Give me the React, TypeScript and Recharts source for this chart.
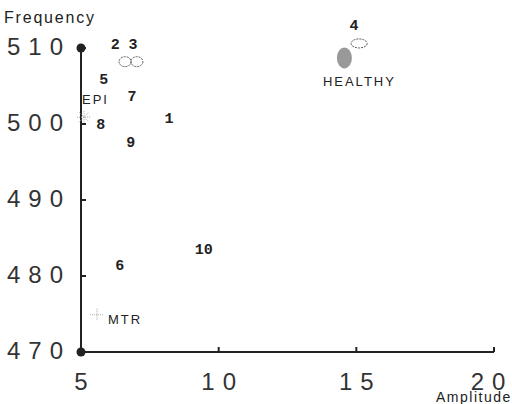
import { ScatterChart, Scatter, XAxis, YAxis, ReferenceLine } from "recharts";

// numbered cases, drawn as text at their data position
const caseNames = ["1", "2", "3", "4", "5", "6", "7", "8", "9", "10"];
const caseX = [8.2, 6.24, 6.89, 14.92, 5.83, 6.41, 6.85, 5.72, 6.81, 9.46];
const caseY = [500.9, 510.7, 510.7, 513.2, 506.1, 481.6, 503.8, 500.1, 497.8, 483.7];

// open ellipses next to cases 2, 3 and 4
const openX = [6.6, 7.03, 15.1];
const openY = [508.2, 508.2, 510.6];

const healthy = [{ x: 14.53, y: 508.7, name: "HEALTHY" }];
const epi = [{ x: 5.11, y: 500.9, name: "EPI" }];
const mtr = [{ x: 5.58, y: 474.9, name: "MTR" }];

const xTicks = [5, 10, 15, 20];
const yTicks = [470, 480, 490, 500, 510];
// vertical axis runs from the lowest to the highest tick
const yAxisLine = [
  { x: 5, y: 470 },
  { x: 5, y: 510 },
];

const marks = [
  ...openX.map((x, i) => ({ x, y: openY[i], kind: "open", name: "" })),
  ...healthy.map((d) => ({ ...d, kind: "healthy" })),
  ...epi.map((d) => ({ ...d, kind: "epi" })),
  ...mtr.map((d) => ({ ...d, kind: "mtr" })),
  ...caseNames.map((n, i) => ({ x: caseX[i], y: caseY[i], name: n, kind: "case" })),
];

const SANS = "'Liberation Sans', Arial, sans-serif";

const YTick = (props: any) => {
  const { x, y, payload } = props;
  return (
    <g>
      <line x1={x} x2={x + 5} y1={y} y2={y} stroke="#222" strokeWidth={2} />
      <text x={x - 10} y={y + 7} textAnchor="end" fontFamily={SANS} fontSize={24} letterSpacing={8} fill="#333">
        {payload.value}
      </text>
      {payload.value === 510 && (
        <text x={x - 77} y={y - 25} fontFamily={SANS} fontSize={16} letterSpacing={1.8} fill="#222">
          Frequency
        </text>
      )}
    </g>
  );
};

const XTick = (props: any) => {
  const { x, y, payload } = props;
  return (
    <g>
      {payload.value !== 5 && <line x1={x} x2={x} y1={y} y2={y - 5} stroke="#222" strokeWidth={2} />}
      <text x={payload.value === 20 ? x - 2 : x + 4} y={y + 38} textAnchor="middle" fontFamily={SANS} fontSize={24} letterSpacing={8} fill="#333">
        {payload.value}
      </text>
      {payload.value === 20 && (
        <text x={x - 58} y={y + 50} fontFamily={SANS} fontSize={14} letterSpacing={1.5} fill="#222">
          Amplitude
        </text>
      )}
    </g>
  );
};

const MarkShape = (props: any) => {
  const { cx, cy, payload } = props;
  if (payload.kind === "open") {
    const wide = payload.x > 10;
    return <ellipse cx={cx} cy={cy} rx={wide ? 8 : 6} ry={wide ? 4.5 : 5} fill="none" stroke="#555" strokeDasharray="2 1" />;
  }
  if (payload.kind === "healthy") {
    return (
      <g>
        <ellipse cx={cx + 1} cy={cy} rx={7.5} ry={10.5} fill="#999" />
        <text x={cx + 16} y={cy + 28} textAnchor="middle" fontFamily={SANS} fontSize={13} letterSpacing={2} fill="#222">
          {payload.name}
        </text>
      </g>
    );
  }
  if (payload.kind === "epi") {
    return (
      <g>
        <g stroke="#aaa" strokeDasharray="1 1">
          <line x1={cx - 7} x2={cx + 7} y1={cy} y2={cy} />
          <line x1={cx - 5} x2={cx + 5} y1={cy - 5} y2={cy + 5} />
          <line x1={cx - 5} x2={cx + 5} y1={cy + 5} y2={cy - 5} />
          <line x1={cx} x2={cx} y1={cy - 6} y2={cy + 6} />
        </g>
        <text x={cx - 2} y={cy - 13} fontFamily={SANS} fontSize={13} letterSpacing={2} fill="#222">
          {payload.name}
        </text>
      </g>
    );
  }
  if (payload.kind === "mtr") {
    return (
      <g>
        <g stroke="#aaa" strokeDasharray="1 1">
          <line x1={cx - 7} x2={cx + 7} y1={cy} y2={cy} />
          <line x1={cx} x2={cx} y1={cy - 6} y2={cy + 6} />
        </g>
        <text x={cx + 11} y={cy + 9} fontFamily={SANS} fontSize={13} letterSpacing={2} fill="#222">
          {payload.name}
        </text>
      </g>
    );
  }
  return (
    <text x={cx} y={cy + 6} textAnchor="middle" fontFamily="'Liberation Mono', monospace" fontWeight="bold" fontSize={15} fill="#222">
      {payload.name}
    </text>
  );
};

export default function App() {
  return (
    <div style={{ position: "absolute", left: 0, top: 0 }}>
      <ScatterChart width={512} height={404} margin={{ top: 10, right: 18, bottom: 51, left: 80 }}>
        <XAxis
          type="number"
          dataKey="x"
          domain={[5, 20]}
          ticks={xTicks}
          height={1}
          tickSize={0}
          tickMargin={0}
          axisLine={{ stroke: "#222", strokeWidth: 2 }}
          tick={XTick}
        />
        <YAxis
          type="number"
          dataKey="y"
          domain={[470, 515]}
          ticks={yTicks}
          width={1}
          tickSize={0}
          tickMargin={0}
          axisLine={false}
          tick={YTick}
        />
        <ReferenceLine segment={yAxisLine} stroke="#222" strokeWidth={2} ifOverflow="visible" />
        <Scatter
          data={yAxisLine}
          line={{ stroke: "#222", strokeWidth: 2 }}
          fill="#222"
          isAnimationActive={false}
        />
        <Scatter data={marks} shape={<MarkShape />} isAnimationActive={false} />
      </ScatterChart>
    </div>
  );
}
